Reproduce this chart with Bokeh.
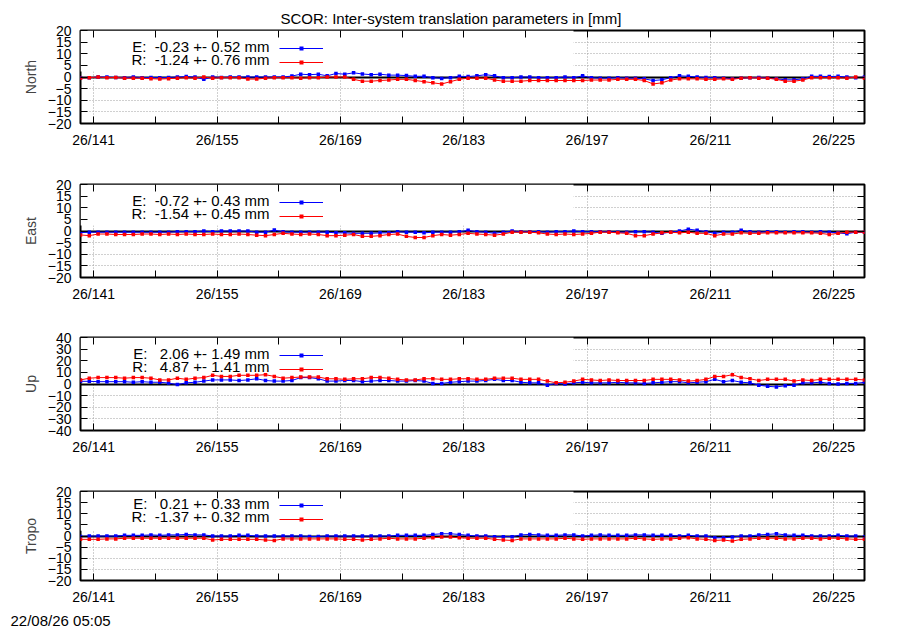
from bokeh.plotting import figure
from bokeh.models import (FixedTicker, LinearAxis, Range1d, BoxAnnotation,
                          Legend, LegendItem, Label, Title)
from bokeh.layouts import column
from bokeh.embed import file_html
from bokeh.resources import INLINE

FONT = "Liberation Sans"
FS = "14px"
FS_BIG = "15px"
NB = "\u00a0"

TITLE = "SCOR: Inter-system translation parameters in [mm]"
STAMP = "22/08/26 05:05"

DOY = [d + 0.5 for d in range(139, 229)]
X_MAJOR = [141, 155, 169, 183, 197, 211, 225]
X_MINOR = [148, 162, 176, 190, 204, 218]
X_LABELS = ["26/141", "26/155", "26/169", "26/183", "26/197", "26/211", "26/225"]

NAMES = ["North", "East", "Up", "Tropo"]
Y_TICKS_20 = [-20, -15, -10, -5, 0, 5, 10, 15, 20]
Y_TICKS_40 = [-40, -30, -20, -10, 0, 10, 20, 30, 40]

NORTH_E = [-0.3, -0.3, 0, 0, -0.2, -0.3, 0, -0.3, -0.2, -0.3, -0.2, 0, 0.2, 0,
           -1.0,
           0, -0.2, 0, 0, 0, 0, 0, 0, 0, 0.4,
           1.2, 1.0, 1.2, 0.5, 1.5, 1.2, 1.8, 1.3, 1.0, 1.2, 0.8, 0.8, 0.6, 0.3, 0.3,
           -0.3, -0.6, -0.3, 0.3, 0.2,
           0.5, 1.0, 0.5, -0.3, -0.3, 0, 0, -0.3, -0.3, -0.3, 0, -0.3, 0.5, -0.3, -0.5,
           -0.5, -0.3, -0.5, -0.5, -0.8, -1.5, -1.2, -0.3, 0.5, 0.3, 0, -0.2, -0.3, -0.5, -0.7,
           -0.5, -0.3, -0.2, -0.5, -0.8, -1.2, -1.2, -0.8, 0.3, 0.3, 0.2, 0.3, 0, -0.3, 0]
NORTH_R = [-0.5, -0.3, 0, -0.3, -0.2, -0.5, -0.5, -0.5, -0.7, -0.9,
           -0.7, -0.5, -0.3, -0.5, 0, -0.5, -0.3, -0.3, -0.3, -0.9,
           -0.9, -0.5, -0.3, -0.3, -0.3, -0.5, -0.3, -0.3, 0, 0,
           0, -1.0, -1.8, -1.8, -1.5, -1.3, -1.0, -1.0, -1.5, -2.0,
           -2.5, -3.0, -2.0, -1.0, -0.5,
           -0.5, -0.5, -1.3, -1.8, -1.8, -1.8, -1.5, -1.5, -1.5, -1.5,
           -1.5, -1.5, -1.5, -1.3, -1.3, -1.3, -1.0, -1.0, -1.0, -1.5,
           -3.0, -2.5, -1.3, -0.8, -0.8, -0.8, -1.0, -1.0, -0.8, -1.0,
           -0.5, -0.3, -0.5, -0.5, -1.0, -1.8, -1.8, -1.3, -0.3, -0.3,
           -0.3, -0.3, -0.5, 0, -0.5]
EAST_E = [-0.7, -0.5, -0.5, -0.5, -0.5, -0.5, -0.5, -0.5, -0.5, -0.5,
          -0.5, -0.3, -0.3, -0.3, 0, -0.3, 0, 0, 0, 0,
          -0.5, -0.5, 0.4, -0.3, -0.5, -0.5, -0.5, -0.5, -0.5, -0.8,
          -0.8, -1.0, -1.0, -1.0, -0.8, -0.8, -0.3, -0.5, -0.5, -0.8,
          -0.5, -0.5,
          -0.5, -0.3, 0.3, -0.3, -0.5, -1.0, -0.5, 0, -0.3, -0.3,
          -0.3, -0.5, -0.3, -0.3, 0, -0.3, -0.3, -0.3, -0.3, -0.5,
          -0.5, -0.3, -0.3, -0.5, -1.0, -0.5, 0, 0.8, 0.3, -0.3,
          -1.0, -0.5, -0.5, 0.3, -0.3, -0.5, -0.3, -0.3, -0.5, -0.3,
          -0.3, -0.5, -0.3, -0.5, -0.8, -1.2, -0.5, -0.5]
EAST_R = [-1.7, -2.0, -1.3, -1.3, -1.5, -1.5, -1.5, -1.3, -1.3, -1.5,
          -1.3, -1.5, -1.3, -1.5, -1.5, -1.3, -1.5, -1.5, -1.3, -1.5,
          -1.8, -2.0, -1.5, -1.0, -1.3, -1.5, -1.3, -1.5, -2.0, -2.0,
          -1.8, -1.5, -2.3, -2.3, -2.0, -1.5, -1.3, -2.3, -2.8, -2.8,
          -2.0, -1.5,
          -1.8, -1.5, -1.0, -1.3, -1.5, -1.8, -1.3, -0.5, -0.5, -0.5,
          -0.8, -1.3, -1.5, -1.3, -1.5, -1.3, -1.0, -0.5, -0.5, -0.8,
          -1.0, -2.0, -2.0, -1.3, -0.8, -0.5, -0.8, -0.5, -1.0, -1.0,
          -2.0, -1.3, -1.3, -0.8, -1.0, -1.0, -0.8, -0.8, -0.8, -0.8,
          -0.8, -0.8, -1.0, -1.5, -1.0, -0.5, -0.5, -0.5]
UP_E = [2.3, 2.3, 2.0, 2.0, 2.0, 2.0, 1.5, 2.0, 1.5, 1.5,
        0.8, -0.5, 1.0, 1.5, 2.5, 3.5, 3.5, 3.5, 3.0, 3.5,
        4.5, 3.0, 2.5, 2.5, 3.0, 5.5, 5.5, 4.5, 2.5, 2.5,
        3.0, 3.0, 2.0, 2.5, 3.0, 3.0, 2.5, 2.5, 3.0, 2.5,
        0.5, 0.5,
        1.5, 2.0, 2.5, 2.5, 3.0, 4.0, 3.0, 3.0, 1.5, 1.0,
        1.0, -1.0, 0.5, 0, 1.0, 1.5, 1.0, 1.0, 1.0, 1.5,
        1.0, 1.0, 0.5, 1.0, 1.5, 2.0, 2.0, 1.0, 1.5, 2.0,
        4.0, 2.0, 3.0, 1.5, 1.0, -1.0, -2.0, -2.5, -1.5, -1.0,
        1.0, 1.0, 1.5, 0.5, 0, 0.5, 0.5, 1.5]
UP_R = [3.5, 5.0, 5.5, 5.5, 5.5, 5.0, 5.5, 5.5, 5.0, 3.5,
        3.5, 5.0, 4.0, 5.0, 5.5, 7.5, 6.5, 6.5, 7.5, 7.5,
        7.5, 8.0, 6.5, 5.0, 5.5, 6.0, 6.0, 6.0, 4.5, 4.5,
        4.0, 4.5, 4.5, 5.5, 5.5, 5.0, 4.0, 3.5, 3.5, 4.5,
        4.5, 4.0,
        4.0, 4.5, 4.5, 4.0, 4.0, 5.0, 5.0, 5.0, 4.0, 4.0,
        4.0, 2.5, 1.0, 1.5, 2.5, 4.0, 3.5, 3.0, 3.5, 3.0,
        3.0, 3.0, 3.0, 4.0, 4.0, 4.0, 3.5, 2.5, 3.0, 4.0,
        6.5, 6.5, 8.0, 5.5, 4.5, 3.0, 4.0, 4.0, 4.0, 2.5,
        3.5, 3.0, 4.0, 4.0, 4.0, 4.0, 4.0, 3.5]
TROPO_E = [-0.2, 0, 0, 0, 0, 0.3, 0.3, 0.3, 0.5, 0.3,
           0.5, 0.5, 0.7, 0.5, 0.5, 0, 0, 0, 0.3, 0.3,
           0, 0, 0, 0, 0, 0, -0.2, -0.2, 0, 0,
           0, 0, 0, 0, 0, 0, 0.3, 0.3, 0.3, 0.3,
           0.7, 1.0, 1.0, 0.7, 0.3,
           0, 0, -0.3, -0.3, -0.3, 0.5, 0.7, 0.5, 0.3, 0.3,
           0.5, 0.5, 0, 0.3, 0.5, 0.3, 0.3, 0.3, 0.5, 0.5,
           0.3, 0.3, 0.3, 0, 0.3, 0, 0, -0.8, -0.8, -0.5,
           0, 0, 0.5, 0.7, 1.0, 0.5, 0.3, 0.3, 0, 0,
           0, 0.3, 0, 0, -0.3]
TROPO_R = [-1.5, -1.5, -1.5, -1.3, -1.3, -1.0, -1.0, -1.0, -1.0, -1.0,
           -1.0, -1.0, -1.0, -1.0, -1.0, -1.8, -1.5, -1.5, -1.5, -1.5,
           -1.5, -1.8, -2.0, -1.3, -1.3, -1.3, -1.3, -1.3, -1.3, -1.3,
           -1.5, -1.5, -1.8, -1.5, -1.3, -1.0, -1.3, -1.3, -1.3, -1.0,
           -0.8, -0.5, -0.5, -0.8, -1.0,
           -1.0, -1.0, -1.5, -1.8, -2.0, -1.3, -1.3, -1.3, -1.3, -1.3,
           -1.0, -1.3, -1.5, -1.3, -1.3, -1.3, -1.3, -1.3, -1.0, -1.3,
           -1.5, -1.3, -1.3, -1.0, -0.8, -1.3, -1.5, -2.0, -1.8, -2.3,
           -1.5, -1.3, -1.0, -1.0, -1.0, -1.3, -1.3, -1.0, -1.0, -1.3,
           -1.0, -1.0, -1.3, -1.5, -1.5]

E_TEXT = ["E:" + NB + " -0.23 +- 0.52 mm", "E:" + NB + " -0.72 +- 0.43 mm",
          "E:" + NB + NB + " 2.06 +- 1.49 mm", "E:" + NB + NB + " 0.21 +- 0.33 mm"]
R_TEXT = ["R:" + NB + " -1.24 +- 0.76 mm", "R:" + NB + " -1.54 +- 0.45 mm",
          "R:" + NB + NB + " 4.87 +- 1.41 mm", "R:" + NB + " -1.37 +- 0.32 mm"]

SERIES_E = [NORTH_E, EAST_E, UP_E, TROPO_E]
SERIES_R = [NORTH_R, EAST_R, UP_R, TROPO_R]
YTICKS = [Y_TICKS_20, Y_TICKS_20, Y_TICKS_40, Y_TICKS_20]

# layout (pixels)
FRAME_W = 784
FRAME_H = 93
TOPS = [30, 34, 33, 34]
BOTS = [27, 27, 27, 46]
KEY_RIGHT_PX = 493   # key box right edge, px from frame left
KEY_H_PX = 41        # key box height, px from frame top


def style_axis(ax, ticker, labels=True):
    ax.ticker = ticker
    ax.axis_line_color = None
    ax.major_tick_in = 7
    ax.major_tick_out = 0
    ax.minor_tick_in = 7
    ax.minor_tick_out = 0
    ax.major_tick_line_color = "black"
    ax.minor_tick_line_color = "black"
    ax.major_tick_line_width = 1
    ax.minor_tick_line_width = 1
    ax.major_label_text_font = FONT
    if labels:
        ax.major_label_text_font_size = FS
        ax.major_label_text_color = "black"
    else:
        ax.major_label_text_font_size = "1px"
        ax.major_label_text_color = None
        ax.major_label_standoff = 0


figs = []
for k in range(4):
    yt = YTICKS[k]
    ylo, yhi = yt[0], yt[-1]
    p = figure(width=80 + FRAME_W + 20, height=TOPS[k] + FRAME_H + BOTS[k],
               x_range=Range1d(DOY[0], DOY[-1]), y_range=Range1d(ylo, yhi),
               output_backend="svg", toolbar_location=None,
               min_border_left=80, min_border_right=20,
               min_border_top=TOPS[k], min_border_bottom=BOTS[k])
    p.background_fill_color = "white"
    p.border_fill_color = "white"
    p.outline_line_color = "black"
    p.outline_line_width = 2

    xt = FixedTicker(ticks=X_MAJOR, minor_ticks=X_MINOR)
    ytk = FixedTicker(ticks=yt, minor_ticks=[])
    style_axis(p.xaxis[0], xt)
    p.xaxis[0].major_label_overrides = {t: s for t, s in zip(X_MAJOR, X_LABELS)}
    p.xaxis[0].major_label_standoff = 8
    style_axis(p.yaxis[0], ytk)
    p.yaxis[0].major_label_standoff = 9
    p.yaxis[0].axis_label = NAMES[k]
    p.yaxis[0].axis_label_text_font = FONT
    p.yaxis[0].axis_label_text_font_size = FS
    p.yaxis[0].axis_label_text_font_style = "normal"
    p.yaxis[0].axis_label_standoff = 6

    top_ax = LinearAxis()
    style_axis(top_ax, FixedTicker(ticks=X_MAJOR, minor_ticks=X_MINOR), labels=False)
    p.add_layout(top_ax, "above")
    right_ax = LinearAxis()
    style_axis(right_ax, FixedTicker(ticks=yt, minor_ticks=[]), labels=False)
    p.add_layout(right_ax, "right")

    for g in (p.xgrid[0], p.ygrid[0]):
        g.grid_line_color = "#a0a0a0"
        g.grid_line_dash = "1 2"
        g.grid_line_width = 1
        g.level = "image"

    # opaque key box (covers grid, under data)
    day_per_px = (DOY[-1] - DOY[0]) / float(FRAME_W)
    val_per_px = (yhi - ylo) / float(FRAME_H)
    box = BoxAnnotation(right=DOY[0] + KEY_RIGHT_PX * day_per_px,
                        bottom=yhi - KEY_H_PX * val_per_px,
                        fill_color="white", fill_alpha=1.0, line_alpha=0,
                        level="underlay")
    p.add_layout(box)

    p.hspan(y=[0], line_color="black", line_width=2)

    le = p.line(DOY, SERIES_E[k], line_color="#0000ff", line_width=1)
    se = p.scatter(DOY, SERIES_E[k], marker="square", size=3.5,
                   fill_color="#0000ff", line_color=None)
    lr = p.line(DOY, SERIES_R[k], line_color="#ff0000", line_width=1)
    sr = p.scatter(DOY, SERIES_R[k], marker="square", size=3.5,
                   fill_color="#ff0000", line_color=None)

    leg = Legend(items=[LegendItem(label=" ", renderers=[le, se]),
                        LegendItem(label=" ", renderers=[lr, sr])],
                 location=(199, 54), orientation="vertical",
                 glyph_width=44, glyph_height=10, label_height=14, label_width=1,
                 spacing=0, padding=0, margin=0, label_standoff=0,
                 label_text_font_size="1px", label_text_color=None,
                 background_fill_alpha=0, border_line_alpha=0)
    p.add_layout(leg)

    for txt, yy in ((E_TEXT[k], FRAME_H - 15.7), (R_TEXT[k], FRAME_H - 29.3)):
        p.add_layout(Label(x=189, y=yy, x_units="screen", y_units="screen",
                           text=txt, text_align="right", text_baseline="middle",
                           text_font=FONT, text_font_size=FS_BIG, text_color="black"))

    if k == 0:
        p.title.text = TITLE
        p.title.align = "left"
        p.title.vertical_align = "bottom"
        p.title.offset = 200
        p.title.standoff = 7
        p.title.text_font = FONT
        p.title.text_font_size = FS_BIG
        p.title.text_font_style = "normal"
        p.title.text_color = "black"
    if k == 3:
        p.add_layout(Title(text=STAMP, align="left", offset=-70, standoff=4,
                           text_font=FONT, text_font_size=FS_BIG,
                           text_font_style="normal", text_color="black"), "below")
    figs.append(p)

layout = column(*figs, spacing=0)
open("out.html", "w").write(file_html(layout, INLINE))
